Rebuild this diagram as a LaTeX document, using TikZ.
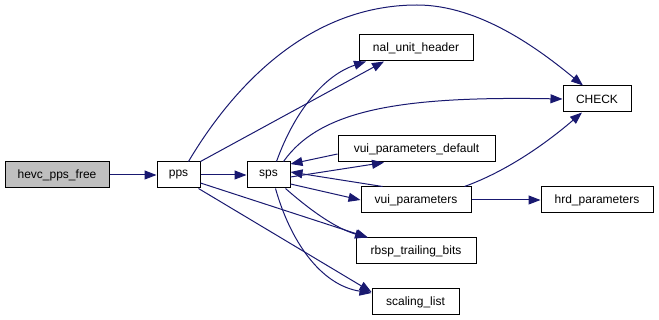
\documentclass[tikz,border=0pt]{standalone}
\usepackage{fontspec}
\setmainfont{Liberation Sans}
\usetikzlibrary{arrows.meta}
\definecolor{edgeblue}{HTML}{191970}
\definecolor{rootgray}{HTML}{BFBFBF}
\begin{document}
\begin{tikzpicture}[
  x=1pt, y=-1pt,
  fn/.style={draw, line width=1pt, fill=white, font=\fontsize{12}{14}\selectfont,
    minimum height=26pt, inner sep=0pt},
  call/.style={draw=edgeblue, line width=1pt, -{Triangle[length=12pt,width=9pt]}}
]
\useasboundingbox (0,0) rectangle (659,320);
\node[fn, fill=rootgray, minimum width=104pt] (free) at (57,175) {hevc\_pps\_free};
\node[fn, minimum width=43pt] (pps) at (178.5,175) {pps};
\node[fn, minimum width=43pt] (sps) at (268.5,175) {sps};
\node[fn, minimum width=114pt] (nal) at (416,48) {nal\_unit\_header};
\node[fn, minimum width=68pt] (check) at (597,99) {CHECK};
\node[fn, minimum width=157pt] (vuidef) at (416.5,149) {vui\_parameters\_default};
\node[fn, minimum width=110pt] (vui) at (416,200) {vui\_parameters};
\node[fn, minimum width=112pt] (hrd) at (597,200) {hrd\_parameters};
\node[fn, minimum width=120pt] (rbsp) at (416,251) {rbsp\_trailing\_bits};
\node[fn, minimum width=87pt] (scal) at (415.5,302) {scaling\_list};

\draw[call] (free) -- (pps);
\draw[call] (pps) -- (sps);
\draw[call] (pps.north east) ++(-12,0) .. controls (225,100) and (300,5) .. (417,5)
  .. controls (480,5) and (540,50) .. (check.north west -| 583,0);
\draw[call] (pps.north east) -- (nal.south west -| 384,0);
\draw[call] (pps.east |- 0,183) -- (rbsp.north west -| 368,0);
\draw[call] (pps.south east) ++(-2,0) -- (scal.west |- 0,292);
\draw[call] (sps.north) ++(8,0) .. controls (295,110) and (325,75) .. (nal.south west -| 366,0);
\draw[call] (sps.north east) ++(-7,0) .. controls (320,110) and (400,96) .. (check.west);
\draw[call] (sps.east |- 0,177) -- (vuidef.south west -| 384,0);
\draw[call] (vuidef.west |- 0,154) -- (sps.east |- 0,164);
\draw[call] (vui.north west) ++(22,0) -- (sps.east |- 0,172);
\draw[call] (sps.east |- 0,184) -- (vui.west);
\draw[call] (sps.south east) ++(-5,0) .. controls (310,210) and (335,228) .. (rbsp.north west -| 367,0);
\draw[call] (sps.south) ++(7,0) .. controls (290,240) and (320,285) .. (scal.west |- 0,293);
\draw[call] (vui.north east) ++(-7,0) .. controls (510,170) and (550,140) .. (check.south west -| 582,0);
\draw[call] (vui) -- (hrd);
\end{tikzpicture}
\end{document}
